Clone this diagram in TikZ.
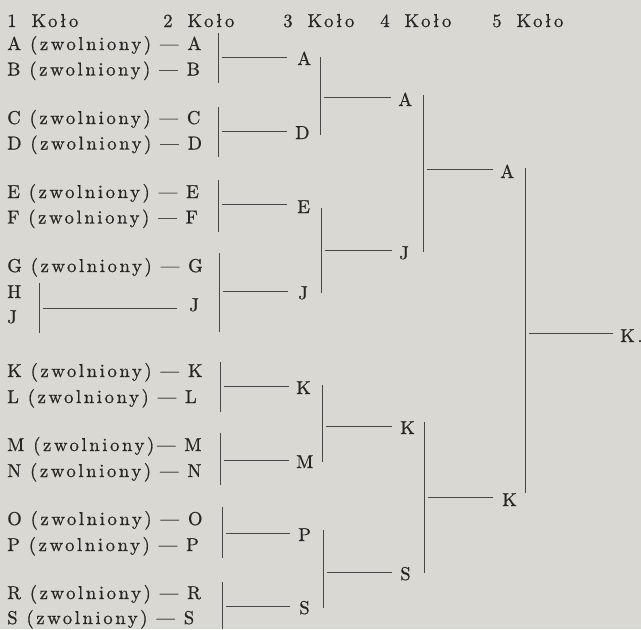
\documentclass[tikz,border=0pt]{standalone}
\usepackage{fontspec}
\setmainfont{lmroman10-regular.otf}[LetterSpace=14,FakeBold=0.7]
\definecolor{paper}{HTML}{DAD8D3}
\definecolor{ink}{HTML}{262626}
\definecolor{rulec}{HTML}{474747}
\newcommand\brk[5]{%
  \draw[br] (#1,#2) -- (#1,#3);
  \draw[br] (#1+4,#4) -- (#5,#4);}
\newcommand\hsp{\hspace{0.8em}}
\begin{document}
\begin{tikzpicture}[x=0.75pt,y=-0.75pt,
  txt/.style={font=\fontsize{14}{16}\selectfont, text=ink, inner sep=0pt, anchor=base west},
  br/.style={draw=rulec, line width=0.65pt}]
\fill[paper] (0,0) rectangle (641,629);
\useasboundingbox (0,0) rectangle (641,629);
% headers
\node[txt] (h1) at (7,27) {1\hsp Koło};
\node[txt] (h2) at (163,27) {2\hsp Koło};
\node[txt] (h3) at (283,27) {3\hsp Koło};
\node[txt] (h4) at (380,27) {4\hsp Koło};
\node[txt] (h5) at (492,27) {5\hsp Koło};
% round 1
\node[txt] (rA) at (7,50) {A (zwolniony) — A};
\node[txt] (rB) at (7,75.5) {B (zwolniony) — B};
\node[txt] (rC) at (7,124) {C (zwolniony) — C};
\node[txt] (rD) at (7,149.5) {D (zwolniony) — D};
\node[txt] (rE) at (7,198) {E (zwolniony) — E};
\node[txt] (rF) at (7,223.5) {F (zwolniony) — F};
\node[txt] (rG) at (7,272) {G (zwolniony) — G};
\node[txt] (rH) at (7,298) {H};
\node[txt] (rJ) at (7,323) {J};
\node[txt] (rJw) at (189,311) {J};
\node[txt] (rK) at (7,377) {K (zwolniony) — K};
\node[txt] (rL) at (7,403) {L (zwolniony) — L};
\node[txt] (rM) at (7,451) {M (zwolniony)— M};
\node[txt] (rN) at (7,477) {N (zwolniony) — N};
\node[txt] (rO) at (7,525) {O (zwolniony) — O};
\node[txt] (rP) at (7,551) {P (zwolniony) — P};
\node[txt] (rR) at (7,599) {R (zwolniony) — R};
\node[txt] (rS) at (7,624) {S (zwolniony) — S};
\brk{39}{283}{333}{308}{177}
% round 2 brackets
\brk{218}{33}{83}{57}{287}
\brk{218}{107}{157}{131}{287}
\brk{218}{180}{232}{204}{287}
\brk{219}{253}{332}{291}{288}
\brk{220}{362}{412}{386}{289}
\brk{220}{433}{485}{460}{289}
\brk{222}{507}{558}{533}{290}
\brk{222}{582}{629}{606}{290}
% round 3 labels
\node[txt] (c3A) at (297,65) {A};
\node[txt] (c3D) at (295,139) {D};
\node[txt] (c3E) at (297,213) {E};
\node[txt] (c3J) at (298,299) {J};
\node[txt] (c3K) at (296,394) {K};
\node[txt] (c3M) at (296,468) {M};
\node[txt] (c3P) at (298,541) {P};
\node[txt] (c3S) at (299,614) {S};
% round 3 brackets
\brk{320}{57}{135}{97}{391}
\brk{321}{208}{293}{250}{392}
\brk{322}{385}{462}{426}{392}
\brk{323}{530}{608}{572}{392}
% round 4 labels
\node[txt] (c4A) at (398,106) {A};
\node[txt] (c4J) at (399,259) {J};
\node[txt] (c4K) at (400,434) {K};
\node[txt] (c4S) at (400,580) {S};
% round 4 brackets
\brk{423}{95}{252}{169}{493}
\brk{424}{422}{573}{497}{493}
% round 5 labels
\node[txt] (c5A) at (500,178) {A};
\node[txt] (c5K) at (502,506) {K};
% final
\brk{525}{168}{493}{333}{613}
\node[txt] (fin) at (620,342) {K.};
\end{tikzpicture}
\end{document}
